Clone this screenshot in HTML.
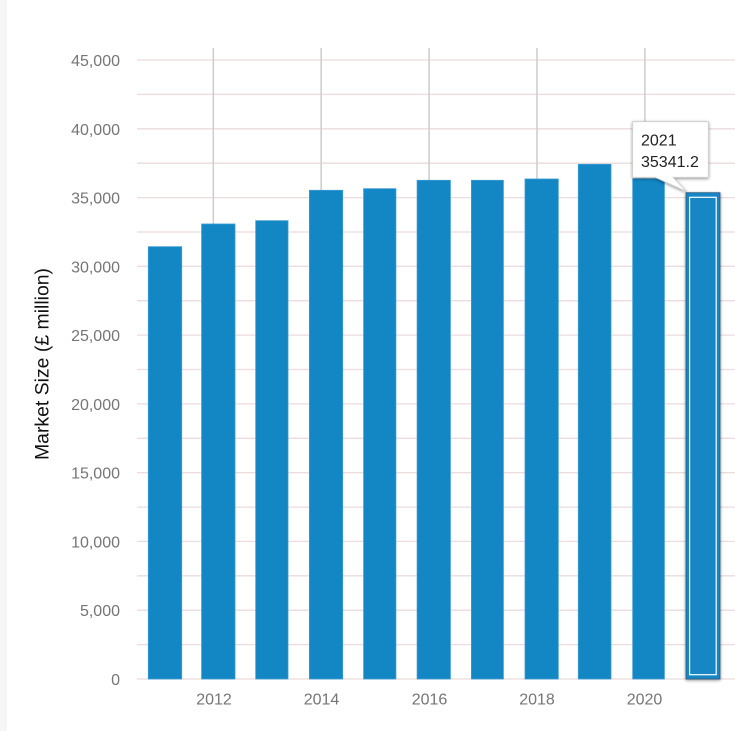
<!DOCTYPE html>
<html><head><meta charset="utf-8"><style>
html,body{margin:0;padding:0;background:#fff;}
svg{display:block;font-family:"Liberation Sans",sans-serif;}
</style></head><body>
<svg width="735" height="731" viewBox="0 0 735 731" xmlns="http://www.w3.org/2000/svg">
<defs>
<filter id="sh" x="-20%" y="-20%" width="140%" height="140%"><feGaussianBlur in="SourceAlpha" stdDeviation="1.5"/><feOffset dx="0" dy="1"/><feComponentTransfer><feFuncA type="linear" slope="0.45"/></feComponentTransfer><feMerge><feMergeNode/><feMergeNode in="SourceGraphic"/></feMerge></filter>
</defs>
<rect x="0" y="0" width="735" height="731" fill="#fff"/>
<rect x="0" y="0" width="7" height="731" fill="#f6f6f6"/>
<g stroke="#ecdcdc" stroke-width="1.3">
<line x1="137" x2="735" y1="60" y2="60"/>
<line x1="137" x2="735" y1="94.4" y2="94.4"/>
<line x1="137" x2="735" y1="128.8" y2="128.8"/>
<line x1="137" x2="735" y1="163.2" y2="163.2"/>
<line x1="137" x2="735" y1="197.6" y2="197.6"/>
<line x1="137" x2="735" y1="232" y2="232"/>
<line x1="137" x2="735" y1="266.3" y2="266.3"/>
<line x1="137" x2="735" y1="300.7" y2="300.7"/>
<line x1="137" x2="735" y1="335.1" y2="335.1"/>
<line x1="137" x2="735" y1="369.5" y2="369.5"/>
<line x1="137" x2="735" y1="403.9" y2="403.9"/>
<line x1="137" x2="735" y1="438.3" y2="438.3"/>
<line x1="137" x2="735" y1="472.7" y2="472.7"/>
<line x1="137" x2="735" y1="507.1" y2="507.1"/>
<line x1="137" x2="735" y1="541.4" y2="541.4"/>
<line x1="137" x2="735" y1="575.8" y2="575.8"/>
<line x1="137" x2="735" y1="610.2" y2="610.2"/>
<line x1="137" x2="735" y1="644.6" y2="644.6"/>
<line x1="137" x2="735" y1="679" y2="679"/>
</g>
<g stroke="#cfcfcf" stroke-width="1.6">
<line x1="213.3" x2="213.3" y1="48" y2="679"/>
<line x1="321.2" x2="321.2" y1="48" y2="679"/>
<line x1="429.1" x2="429.1" y1="48" y2="679"/>
<line x1="537" x2="537" y1="48" y2="679"/>
<line x1="644.9" x2="644.9" y1="48" y2="679"/>
</g>
<g fill="#1386c4" stroke="#3a9bd4" stroke-width="0.8">
<rect x="148.3" y="246.7" width="33.4" height="432.3"/>
<rect x="201.6" y="224" width="33.4" height="455"/>
<rect x="255.7" y="220.7" width="32.3" height="458.3"/>
<rect x="309.4" y="190.3" width="33.3" height="488.7"/>
<rect x="363.6" y="188.7" width="32.3" height="490.3"/>
<rect x="417.1" y="180.3" width="33.3" height="498.7"/>
<rect x="471.4" y="180.3" width="32" height="498.7"/>
<rect x="525" y="179" width="33.3" height="500"/>
<rect x="578.3" y="164.3" width="32.7" height="514.7"/>
<rect x="632.7" y="178.7" width="31.7" height="500.3"/>
</g>
<g filter="url(#sh)">
<rect x="686" y="192.7" width="34" height="486.3" fill="#1386c4" stroke="#2a5d80" stroke-width="0.8"/>
</g>
<rect x="689.6" y="197.3" width="26.6" height="477.4" fill="none" stroke="#ffffff" stroke-width="1.2"/>
<g filter="url(#sh)">
<path d="M632.7,121.7 H708.3 V177.3 H673 L686.5,191.5 L655,177.3 H632.7 Z" fill="#fff" stroke="#cccccc" stroke-width="0.8"/>
</g>
<g font-size="16" fill="#222">
<text x="641" y="145.5">2021</text>
<text x="641" y="166.8">35341.2</text>
</g>
<g font-size="16" fill="#757575" text-anchor="end">
<text x="120" y="66">45,000</text>
<text x="120" y="134.8">40,000</text>
<text x="120" y="203.6">35,000</text>
<text x="120" y="272.3">30,000</text>
<text x="120" y="341.1">25,000</text>
<text x="120" y="409.9">20,000</text>
<text x="120" y="478.7">15,000</text>
<text x="120" y="547.4">10,000</text>
<text x="120" y="616.2">5,000</text>
<text x="120" y="685">0</text>
</g>
<g font-size="16" fill="#757575" text-anchor="middle">
<text x="214" y="704.5">2012</text>
<text x="321.5" y="704.5">2014</text>
<text x="429.5" y="704.5">2016</text>
<text x="537" y="704.5">2018</text>
<text x="644.5" y="704.5">2020</text>
</g>
<text transform="translate(48.5,364) rotate(-90)" font-size="19" fill="#111" text-anchor="middle" textLength="192" lengthAdjust="spacingAndGlyphs">Market Size (£ million)</text>
</svg>
</body></html>
